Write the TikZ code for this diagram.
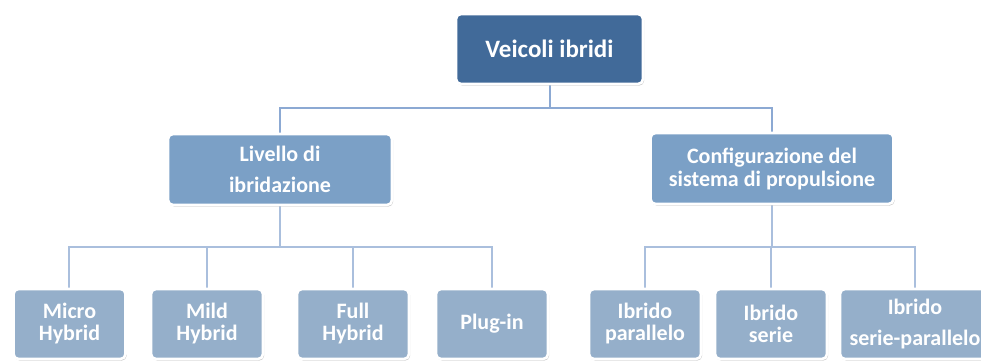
\documentclass[tikz,border=0pt]{standalone}
\usepackage{fontspec}
\setmainfont{Carlito}
\usetikzlibrary{shadows}
\definecolor{rootblue}{HTML}{416A99}
\definecolor{midblue}{HTML}{7BA0C6}
\definecolor{leafblue}{HTML}{95AFCA}
\definecolor{linkdark}{HTML}{8CA9D3}
\definecolor{linklight}{HTML}{AABFDD}
\tikzset{
  box/.style={draw=white, line width=2.6pt, rounded corners=5pt, align=center,
    text=white, inner sep=1pt,
    drop shadow={shadow xshift=1.2pt, shadow yshift=-1.6pt, opacity=0.35, fill=black!60}},
  rootbox/.style={box, fill=rootblue, minimum width=187pt, minimum height=70pt, font=\bfseries\fontsize{25}{28}\selectfont},
  midbox/.style={box, fill=midblue, minimum height=71pt, font=\bfseries\fontsize{22}{23}\selectfont},
  leafbox/.style={box, fill=leafblue, minimum width=112pt, minimum height=70pt, font=\bfseries\fontsize{22}{22}\selectfont},
  upper/.style={draw=linkdark, line width=2.6pt},
  lower/.style={draw=linklight, line width=2.6pt},
}
\begin{document}
\begin{tikzpicture}[x=1pt, y=-1pt]
\useasboundingbox (0,0) rectangle (981,363);

% tree levels
\coordinate (busA) at (0,108);
\coordinate (busB) at (0,247);

% connectors first, boxes drawn on top
\coordinate (rootfoot) at (550,84);
\coordinate (livhead) at (280,133);
\coordinate (confhead) at (772,134);
\draw[upper] (rootfoot) -- (rootfoot |- busA) -| (livhead);
\draw[upper] (rootfoot |- busA) -| (confhead);

\coordinate (livfoot) at (280,206);
\coordinate (conffoot) at (772,203);
\foreach \x in {69,207,353,492}{
  \draw[lower] (livfoot) -- (livfoot |- busB) -| (\x,289);
}
\foreach \x in {645,771,915}{
  \draw[lower] (conffoot) -- (conffoot |- busB) -| (\x,289);
}

% boxes
\node[rootbox] (root) at (549.5,49) {Veicoli ibridi};
\node[midbox, minimum width=224pt] (liv) at (280,169.5) {Livello di\\[8pt]ibridazione};
\node[midbox, minimum width=243pt] (conf) at (772,168.5) {Configurazione del\\sistema di propulsione};

\node[leafbox] (micro) at (69.5,324) {Micro\\Hybrid};
\node[leafbox] (mild) at (207,324) {Mild\\Hybrid};
\node[leafbox] (full) at (353,324) {Full\\Hybrid};
\node[leafbox] (plug) at (492,324) {Plug-in};
\node[leafbox] (par) at (645,324) {Ibrido\\parallelo};
\node[leafbox] (ser) at (771,324) {Ibrido\\serie};
\node[leafbox, minimum width=150pt] (serpar) at (915,324) {Ibrido\\[9pt]serie-parallelo};
\end{tikzpicture}
\end{document}
